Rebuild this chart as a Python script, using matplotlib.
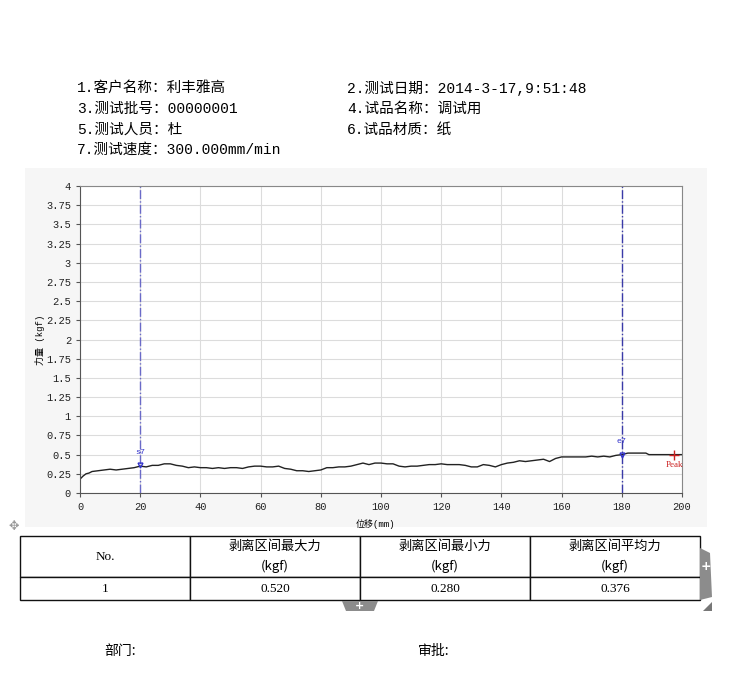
import matplotlib.pyplot as plt
from matplotlib.patches import Rectangle, Polygon

# 曲线数据 (位移 mm, 力量 kgf)
disp = [0, 0, 1, 2, 3, 4, 6, 8, 10, 12, 14, 16, 18, 20, 22, 24, 26, 28, 30, 32,
        34, 36, 38, 40, 42, 44, 46, 48, 50, 52, 54, 56, 58, 60, 62, 64, 66, 68,
        70, 72, 74, 76, 78, 80, 82, 84, 86, 88, 90, 92, 94, 96, 98, 100, 102,
        104, 106, 108, 110, 112, 114, 116, 118, 120, 122, 124, 126, 128, 130,
        132, 134, 136, 138, 140, 142, 144, 146, 148, 150, 152, 154, 156, 158,
        160, 164, 168, 170, 172, 174, 176, 178, 180, 182, 186, 188, 189, 194,
        197.5, 200]
force = [0.0, 0.18, 0.22, 0.25, 0.26, 0.28, 0.29, 0.30, 0.31, 0.30, 0.31, 0.32,
         0.33, 0.35, 0.34, 0.36, 0.36, 0.38, 0.38, 0.36, 0.35, 0.33, 0.34, 0.33,
         0.33, 0.32, 0.33, 0.32, 0.33, 0.33, 0.32, 0.34, 0.35, 0.35, 0.34, 0.34,
         0.35, 0.32, 0.31, 0.29, 0.29, 0.28, 0.29, 0.30, 0.33, 0.33, 0.34, 0.34,
         0.35, 0.37, 0.39, 0.37, 0.39, 0.39, 0.38, 0.38, 0.35, 0.34, 0.35, 0.35,
         0.36, 0.37, 0.37, 0.38, 0.37, 0.37, 0.37, 0.36, 0.34, 0.34, 0.37, 0.36,
         0.34, 0.37, 0.39, 0.40, 0.42, 0.41, 0.42, 0.43, 0.44, 0.41, 0.45, 0.47,
         0.47, 0.47, 0.48, 0.47, 0.48, 0.47, 0.49, 0.50, 0.52, 0.52, 0.52, 0.50,
         0.50, 0.50, 0.50]

start_x, end_x = 20, 180
start_y, end_y = 0.36, 0.50
peak_x, peak_y = 197.5, 0.50

info_left = ["1.客户名称：利丰雅高", "3.测试批号：00000001", "5.测试人员：杜", "7.测试速度：300.000mm/min"]
info_right = ["2.测试日期：2014-3-17,9:51:48", "4.试品名称：调试用", "6.试品材质：纸"]

col_labels = ["No.", "剥离区间最大力\n(kgf)", "剥离区间最小力\n(kgf)", "剥离区间平均力\n(kgf)"]
row_vals = ["1", "0.520", "0.280", "0.376"]

cjk = ["Liberation Mono", "Noto Sans CJK SC"]
W, H = 732, 677

fig = plt.figure(figsize=(7.32, 6.77), dpi=100)

# 图表背景
fig.patches.append(Rectangle((25 / W, 1 - 527 / H), 682 / W, 359 / H,
                             transform=fig.transFigure, facecolor="#f6f6f6",
                             edgecolor="none", zorder=-5))

# 表头信息
for i, t in enumerate(info_left):
    fig.text(77 / W, 1 - (88 + i * 20.7) / H, t, family=cjk, fontsize=10.5, va="center")
for i, t in enumerate(info_right):
    fig.text(347 / W, 1 - (88 + i * 20.7) / H, t, family=cjk, fontsize=10.5, va="center")

ax = fig.add_axes([80 / W, 1 - 493 / H, 602 / W, 307 / H])
ax.set_facecolor("white")
ax.plot(disp, force, color="#222222", lw=1)
ax.set_xlim(0, 200)
ax.set_ylim(0, 4)
ax.set_xticks(range(0, 201, 20))
ax.set_yticks([i * 0.25 for i in range(17)])
ax.set_yticklabels([f"{i * 0.25:g}" for i in range(17)])
ax.grid(True, color="#dcdcdc", lw=0.8)
ax.set_axisbelow(True)
ax.tick_params(labelsize=7.5, length=3, color="#555555", labelcolor="#222222")
for lab in ax.get_xticklabels() + ax.get_yticklabels():
    lab.set_family("Liberation Mono")
for s in ["top", "right"]:
    ax.spines[s].set_color("#888888")
for s in ["left", "bottom"]:
    ax.spines[s].set_color("#555555")
ax.set_ylabel("力量 (kgf)", family=cjk, fontsize=6.5, labelpad=1)
ax.set_xlabel("位移(mm)", family=cjk, fontsize=6.5, labelpad=2)
ax.xaxis.set_label_coords(0.49, -0.085)

# 起止标记
ax.axvline(start_x, color="#6a6ac8", lw=1, ls="-.")
ax.axvline(end_x, color="#3a3aa8", lw=1, ls="-.")
ax.plot([start_x], [start_y], marker="v", color="#3333cc", ms=3.5, mfc="none")
ax.plot([end_x], [end_y], marker="v", color="#3333cc", ms=3.5, mfc="none")
ax.text(start_x, start_y + 0.12, "s7", color="#3333cc", fontsize=6,
        family="Liberation Mono", ha="center", va="bottom")
ax.text(end_x, end_y + 0.12, "e7", color="#3333cc", fontsize=6,
        family="Liberation Mono", ha="center", va="bottom")
ax.plot([peak_x], [peak_y], marker="+", color="#cc2222", ms=7, mew=1)
ax.text(peak_x, peak_y - 0.08, "Peak", color="#cc2222", fontsize=6.5,
        family="Liberation Serif", ha="center", va="top")

# 结果表格
tax = fig.add_axes([20 / W, 1 - 600 / H, 680 / W, 64 / H])
tax.axis("off")
tab = tax.table(cellText=[row_vals], colLabels=col_labels, cellLoc="center",
                bbox=[0, 0, 1, 1])
tab.auto_set_font_size(False)
for (r, c), cell in tab.get_celld().items():
    cell.set_height(41 if r == 0 else 23)
    cell.set_edgecolor("#111111")
    cell.set_linewidth(1)
    txt = cell.get_text()
    txt.set_fontsize(9.5)
    if r == 0 and c > 0:
        txt.set_family(["Noto Sans CJK SC", "Liberation Serif"])
        txt.set_linespacing(1.7)
    else:
        txt.set_family("Liberation Serif")

# 界面装饰
fig.patches.append(Polygon([(700 / W, 1 - 548 / H), (710 / W, 1 - 553 / H),
                            (712 / W, 1 - 597 / H), (700 / W, 1 - 600 / H)],
                           closed=True, transform=fig.transFigure,
                           facecolor="#8c8c8c", edgecolor="none"))
fig.text(706 / W, 1 - 567 / H, "+", color="white", fontsize=9, weight="bold",
         ha="center", va="center")
fig.patches.append(Polygon([(342 / W, 1 - 601 / H), (378 / W, 1 - 601 / H),
                            (374 / W, 1 - 611 / H), (346 / W, 1 - 611 / H)],
                           closed=True, transform=fig.transFigure,
                           facecolor="#8c8c8c", edgecolor="none"))
fig.text(360 / W, 1 - 606 / H, "+", color="white", fontsize=8, weight="bold",
         ha="center", va="center")
fig.text(14 / W, 1 - 527 / H, "✥", color="#999999", fontsize=9,
         family="DejaVu Sans", ha="center", va="center")
fig.patches.append(Polygon([(703 / W, 1 - 611 / H), (712 / W, 1 - 602 / H),
                            (712 / W, 1 - 611 / H)], closed=True,
                           transform=fig.transFigure, facecolor="#777777",
                           edgecolor="none"))

# 签字栏
fig.text(104 / W, 1 - 651 / H, "部门:", family=["Noto Sans CJK SC", "DejaVu Sans"],
         fontsize=10, va="center")
fig.text(418 / W, 1 - 651 / H, "审批:", family=["Noto Sans CJK SC", "DejaVu Sans"],
         fontsize=10, va="center")

fig.savefig("out.png", dpi=100, facecolor="white")
